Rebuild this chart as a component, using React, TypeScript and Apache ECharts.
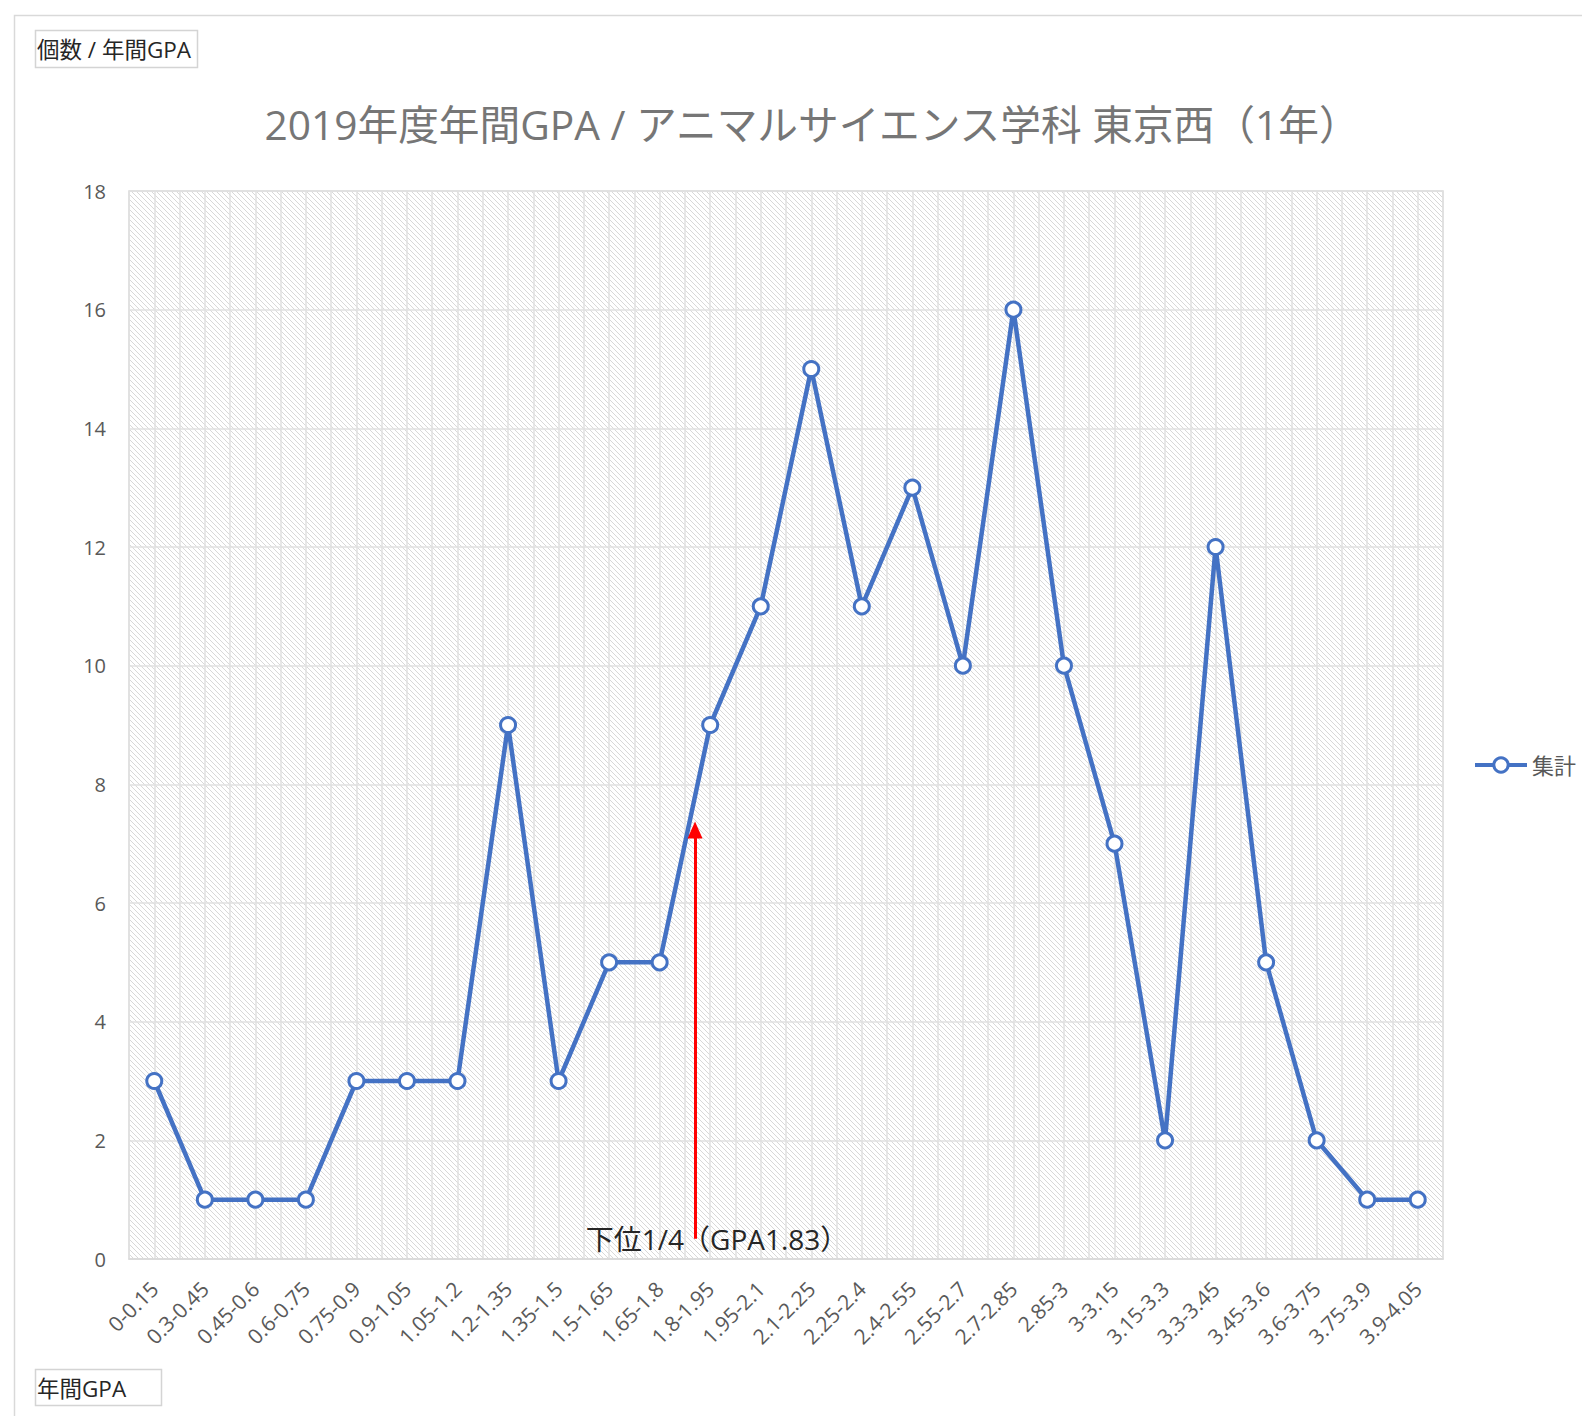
import React, { useEffect, useRef } from "react";
import * as echarts from "echarts";

const categories = [
  "0-0.15", "0.3-0.45", "0.45-0.6", "0.6-0.75", "0.75-0.9", "0.9-1.05",
  "1.05-1.2", "1.2-1.35", "1.35-1.5", "1.5-1.65", "1.65-1.8", "1.8-1.95",
  "1.95-2.1", "2.1-2.25", "2.25-2.4", "2.4-2.55", "2.55-2.7", "2.7-2.85",
  "2.85-3", "3-3.15", "3.15-3.3", "3.3-3.45", "3.45-3.6", "3.6-3.75",
  "3.75-3.9", "3.9-4.05",
];
const counts = [3, 1, 1, 1, 3, 3, 3, 9, 3, 5, 5, 9, 11, 15, 11, 13, 10, 16, 10, 7, 2, 12, 5, 2, 1, 1];
const yMin = 0;
const yMax = 18;
const yInterval = 2;

const seriesName = "集計";
const titleText = "2019年度年間GPA / アニマルサイエンス学科 東京西（1年）";
const yFieldLabel = "個数 / 年間GPA";
const xFieldLabel = "年間GPA";

// annotation: lower quartile at GPA 1.83
const markerGpa = 1.83;
const markerBin = "1.8-1.95";
const binWidth = 0.15;
const arrowFrom = 0.34;
const arrowTo = 7.23;
const markerTextLeft = "下位1/4";
const markerTextRight = "（GPA1.83）";

function makeHatch(): HTMLCanvasElement {
  const n = 5;
  const c = document.createElement("canvas");
  c.width = n;
  c.height = n;
  const ctx = c.getContext("2d")!;
  ctx.fillStyle = "#ffffff";
  ctx.fillRect(0, 0, n, n);
  ctx.fillStyle = "#d8d8d8";
  for (let i = 0; i < n; i++) ctx.fillRect(i, i, 1, 1);
  return c;
}

export default function App() {
  const ref = useRef<HTMLDivElement>(null);
  useEffect(() => {
    if (!ref.current) return;
    const chart = echarts.init(ref.current, null, { renderer: "svg" });
    const binIdx = categories.indexOf(markerBin);
    const binStart = parseFloat(markerBin.split("-")[0]);
    const markerPos = binIdx - 0.5 + (markerGpa - binStart) / binWidth;
    const font = "'Open Sans', 'Noto Sans CJK JP', sans-serif";

    chart.setOption({
      animation: false,
      backgroundColor: "#ffffff",
      textStyle: { fontFamily: font },
      legend: {
        data: [seriesName],
        left: 1473,
        top: 754,
        padding: 0,
        itemWidth: 52,
        itemHeight: 18,
        itemGap: 0,
        lineStyle: { width: 4 },
        itemStyle: { borderWidth: 3 },
        textStyle: { fontFamily: font, fontSize: 22, color: "#595959", padding: [0, 0, 0, 0] },
      },
      grid: {
        left: 129,
        top: 191,
        right: 139,
        bottom: 157,
        show: true,
        backgroundColor: { image: makeHatch(), repeat: "repeat" },
        borderColor: "#d9d9d9",
        borderWidth: 1.5,
      },
      xAxis: [
        {
          type: "category",
          data: categories,
          boundaryGap: true,
          axisLine: { show: true, lineStyle: { color: "#d9d9d9", width: 1.5 } },
          axisTick: { show: false },
          splitLine: { show: false },
          axisLabel: {
            rotate: 45,
            interval: 0,
            fontSize: 21,
            color: "#595959",
            fontFamily: font,
            margin: 26,
          },
        },
        {
          type: "value",
          min: -0.5,
          max: categories.length - 0.5,
          interval: 0.5,
          position: "bottom",
          axisLine: { show: false },
          axisTick: { show: false },
          axisLabel: { show: false },
          splitLine: { show: true, lineStyle: { color: "#e0e0e0", width: 1.5 } },
        },
      ],
      yAxis: {
        type: "value",
        min: yMin,
        max: yMax,
        interval: yInterval,
        axisLine: { show: false },
        axisTick: { show: false },
        axisLabel: { fontSize: 20, color: "#595959", fontFamily: font, margin: 23 },
        splitLine: { show: true, lineStyle: { color: "#e0e0e0", width: 1.5 } },
      },
      series: [
        {
          name: seriesName,
          type: "line",
          xAxisIndex: 0,
          data: counts,
          symbol: "circle",
          symbolSize: 15,
          z: 3,
          lineStyle: { color: "#4472C4", width: 4.5 },
          itemStyle: { color: "#ffffff", borderColor: "#4472C4", borderWidth: 3 },
        },
        {
          name: "annotation",
          type: "line",
          xAxisIndex: 1,
          data: [[markerPos, arrowFrom]],
          symbolSize: 0,
          lineStyle: { opacity: 0 },
          z: 5,
          silent: true,
          markLine: {
            silent: true,
            symbol: ["none", "triangle"],
            symbolSize: [15, 17],
            label: { show: false },
            lineStyle: { color: "#ff0000", width: 3, type: "solid" },
            data: [[{ coord: [markerPos, arrowFrom] }, { coord: [markerPos, arrowTo] }]],
          },
          markPoint: {
            silent: true,
            symbol: "circle",
            symbolSize: 0,
            data: [
              {
                coord: [markerPos, arrowFrom],
                label: {
                  show: true,
                  formatter: markerTextLeft,
                  position: "left",
                  distance: 11,
                  fontSize: 28,
                  color: "#262626",
                  fontFamily: font,
                },
              },
              {
                coord: [markerPos, arrowFrom],
                label: {
                  show: true,
                  formatter: markerTextRight,
                  position: "right",
                  distance: -13,
                  fontSize: 28,
                  color: "#262626",
                  fontFamily: font,
                },
              },
            ],
          },
        },
      ],
      graphic: [
        {
          type: "text",
          x: 812,
          y: 124,
          style: {
            text: titleText,
            fontSize: 40.7,
            fill: "#767676",
            fontFamily: font,
            align: "center",
            verticalAlign: "middle",
          },
          silent: true,
        },
        {
          type: "rect",
          shape: { x: 14.5, y: 15.5, width: 1700, height: 1600 },
          style: { fill: "none", stroke: "#d9d9d9", lineWidth: 1.5 },
          silent: true,
        },
        {
          type: "rect",
          shape: { x: 35.5, y: 30.5, width: 162, height: 37 },
          style: { fill: "none", stroke: "#d4d4d4", lineWidth: 1.5 },
          silent: true,
        },
        {
          type: "text",
          x: 37,
          y: 49,
          style: { text: yFieldLabel, fontSize: 22.5, fill: "#262626", fontFamily: font, verticalAlign: "middle" },
          silent: true,
        },
        {
          type: "rect",
          shape: { x: 35.5, y: 1369.5, width: 126, height: 36 },
          style: { fill: "none", stroke: "#d4d4d4", lineWidth: 1.5 },
          silent: true,
        },
        {
          type: "text",
          x: 37,
          y: 1388,
          style: { text: xFieldLabel, fontSize: 22.5, fill: "#262626", fontFamily: font, verticalAlign: "middle" },
          silent: true,
        },
      ],
    });
    return () => chart.dispose();
  }, []);
  return (
    <div
      ref={ref}
      style={{ position: "fixed", left: 0, top: 0, width: 1582, height: 1416, background: "#fff" }}
    />
  );
}
